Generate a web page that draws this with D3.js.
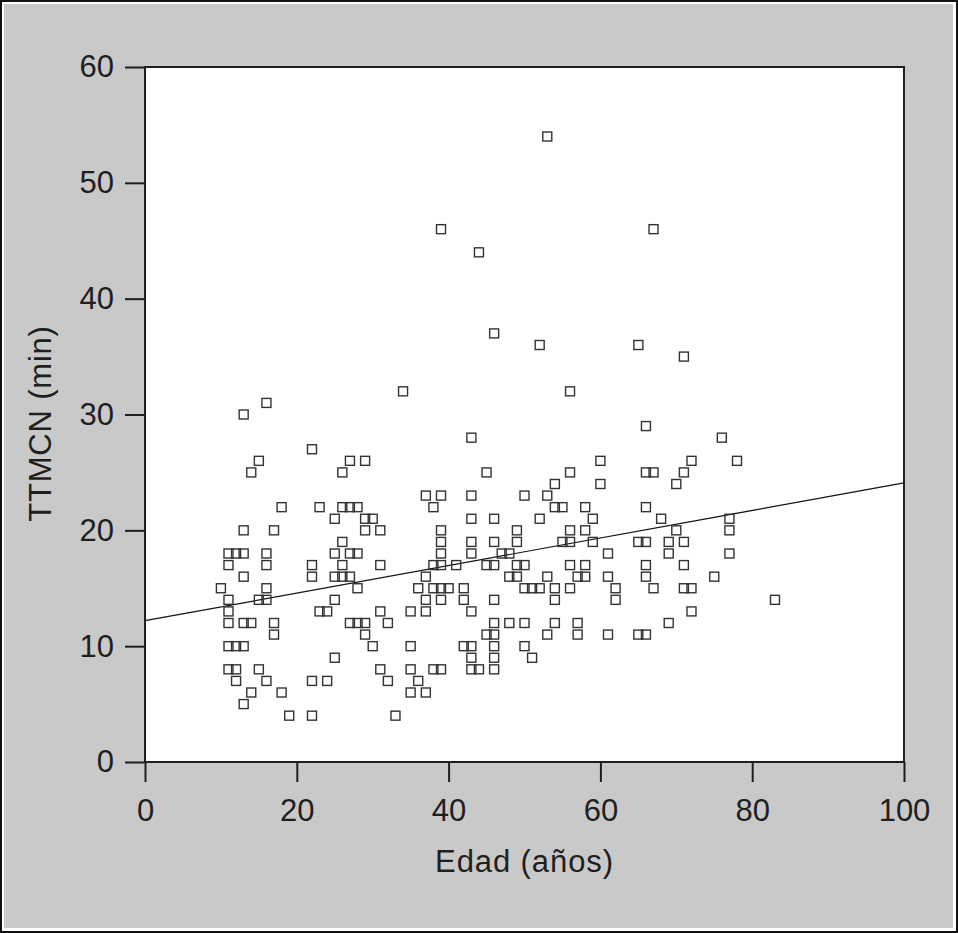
<!DOCTYPE html>
<html>
<head>
<meta charset="utf-8">
<script src="https://cdn.jsdelivr.net/npm/d3@7/dist/d3.min.js"></script>
<style>
  html, body { margin: 0; padding: 0; background: #ffffff; }
  svg { display: block; }
</style>
</head>
<body>
<svg id="chart" width="958" height="933"></svg>
<script>
// ---- Data ----
const xTicks = [0, 20, 40, 60, 80, 100];
const yTicks = [0, 10, 20, 30, 40, 50, 60];
const xTitle = "Edad (años)";
const yTitle = "TTMCN (min)";

// Age (years) of each patient
const ages = [
  53, 39, 67, 44, 46, 52, 65, 71, 34, 56, 16, 13, 66, 43, 76, 22,
  15, 27, 29, 60, 72, 78,
  14, 26, 45, 56, 66, 67, 71,
  54, 60, 70,
  37, 39, 43, 50, 53,
  18, 23, 26, 27, 28, 38, 54, 55, 58, 66,
  25, 29, 30, 43, 46, 52, 59, 68, 77,
  13, 17, 29, 31, 39, 49, 56, 58, 70, 77,
  26, 39, 43, 46, 49, 55, 56, 59, 65, 66, 69, 71,
  11, 12, 13, 16, 25, 27, 28, 39, 43, 47, 48, 61, 69, 77,
  11, 16, 22, 26, 31, 38, 39, 41, 45, 46, 49, 50, 56, 58, 66, 71,
  13, 22, 25, 26, 27, 37, 48, 49, 53, 57, 58, 61, 66, 75,
  10, 16, 28, 36, 38, 39, 40, 42, 50, 51, 52, 54, 56, 62, 67, 71, 72,
  11, 15, 16, 25, 37, 39, 42, 46, 54, 62, 83,
  11, 23, 24, 31, 35, 37, 43, 72,
  11, 13, 14, 17, 27, 28, 29, 32, 46, 48, 50, 54, 57, 69,
  17, 29, 45, 46, 53, 57, 61, 65, 66,
  11, 12, 13, 30, 35, 42, 43, 46, 50,
  25, 43, 46, 51,
  11, 12, 15, 31, 35, 38, 39, 43, 44, 46,
  12, 16, 22, 24, 32, 36,
  14, 18, 35, 37,
  13,
  19, 22, 33
];
// TTMCN (min) of each patient, same order as ages
const minutes = [
  54, 46, 46, 44, 37, 36, 36, 35, 32, 32, 31, 30, 29, 28, 28, 27,
  26, 26, 26, 26, 26, 26,
  25, 25, 25, 25, 25, 25, 25,
  24, 24, 24,
  23, 23, 23, 23, 23,
  22, 22, 22, 22, 22, 22, 22, 22, 22, 22,
  21, 21, 21, 21, 21, 21, 21, 21, 21,
  20, 20, 20, 20, 20, 20, 20, 20, 20, 20,
  19, 19, 19, 19, 19, 19, 19, 19, 19, 19, 19, 19,
  18, 18, 18, 18, 18, 18, 18, 18, 18, 18, 18, 18, 18, 18,
  17, 17, 17, 17, 17, 17, 17, 17, 17, 17, 17, 17, 17, 17, 17, 17,
  16, 16, 16, 16, 16, 16, 16, 16, 16, 16, 16, 16, 16, 16,
  15, 15, 15, 15, 15, 15, 15, 15, 15, 15, 15, 15, 15, 15, 15, 15, 15,
  14, 14, 14, 14, 14, 14, 14, 14, 14, 14, 14,
  13, 13, 13, 13, 13, 13, 13, 13,
  12, 12, 12, 12, 12, 12, 12, 12, 12, 12, 12, 12, 12, 12,
  11, 11, 11, 11, 11, 11, 11, 11, 11,
  10, 10, 10, 10, 10, 10, 10, 10, 10,
  9, 9, 9, 9,
  8, 8, 8, 8, 8, 8, 8, 8, 8, 8,
  7, 7, 7, 7, 7, 7,
  6, 6, 6, 6,
  5,
  4, 4, 4
];
// Fitted regression line (value at age 0 and at age 100)
const fitX = [0, 100];
const fitY = [12.2, 24.1];

// ---- Drawing ----
const W = 958, H = 933;
const pLeft = 145, pRight = 904, pTop = 67, pBottom = 762;
const FONT = "'Liberation Sans', Arial, Helvetica, sans-serif";
const INK = "#1f1f1f";

const svg = d3.select("#chart");

// outer frame: black edge, thin white line, grey panel
svg.append("rect").attr("x", 0).attr("y", 0).attr("width", W).attr("height", H).attr("fill", "#111");
svg.append("rect").attr("x", 2).attr("y", 2).attr("width", W - 4).attr("height", H - 4).attr("fill", "#ffffff");
svg.append("rect").attr("x", 4).attr("y", 4).attr("width", W - 9).attr("height", H - 9).attr("fill", "#c9c9c9");

const x = d3.scaleLinear().domain([0, 100]).range([pLeft, pRight]);
const y = d3.scaleLinear().domain([0, 60]).range([pBottom, pTop]);

// plot area
svg.append("rect")
  .attr("x", pLeft).attr("y", pTop)
  .attr("width", pRight - pLeft).attr("height", pBottom - pTop)
  .attr("fill", "#ffffff");

// axes
const yAxis = svg.append("g")
  .attr("transform", `translate(${pLeft},0)`)
  .call(d3.axisLeft(y).tickValues(yTicks).tickSize(20).tickPadding(11).tickFormat(d3.format("d")));
const xAxis = svg.append("g")
  .attr("transform", `translate(0,${pBottom})`)
  .call(d3.axisBottom(x).tickValues(xTicks).tickSize(20).tickPadding(17).tickFormat(d3.format("d")));

[xAxis, yAxis].forEach(g => {
  g.select(".domain").remove();
  g.selectAll(".tick line").attr("stroke", INK).attr("stroke-width", 2);
  g.selectAll(".tick text")
    .attr("fill", INK)
    .style("font-family", FONT)
    .style("font-size", "31px");
});

// regression line
const fitData = fitX.map((v, i) => [v, fitY[i]]);
svg.append("path")
  .datum(fitData)
  .attr("d", d3.line().x(d => x(d[0])).y(d => y(d[1])))
  .attr("fill", "none")
  .attr("stroke", "#111")
  .attr("stroke-width", 1.2);

// points (open squares)
const S = 9;
const pts = ages.map((a, i) => ({ a: a, m: minutes[i] }));
svg.append("g")
  .selectAll("rect")
  .data(pts)
  .join("rect")
  .attr("x", d => x(d.a) - S / 2)
  .attr("y", d => y(d.m) - S / 2)
  .attr("width", S)
  .attr("height", S)
  .attr("fill", "none")
  .attr("stroke", "#333")
  .attr("stroke-width", 1.4);

// plot frame
svg.append("rect")
  .attr("x", pLeft).attr("y", pTop)
  .attr("width", pRight - pLeft).attr("height", pBottom - pTop)
  .attr("fill", "none")
  .attr("stroke", INK)
  .attr("stroke-width", 2);

// axis titles
svg.append("text")
  .attr("x", (pLeft + pRight) / 2)
  .attr("y", 872)
  .attr("text-anchor", "middle")
  .attr("fill", INK)
  .style("font-family", FONT)
  .style("font-size", "31px")
  .style("letter-spacing", "0.9px")
  .text(xTitle);

svg.append("text")
  .attr("transform", `translate(51,${(pTop + pBottom) / 2 + 9}) rotate(-90)`)
  .attr("text-anchor", "middle")
  .attr("fill", INK)
  .style("font-family", FONT)
  .style("font-size", "31px")
  .style("letter-spacing", "0.8px")
  .text(yTitle);
</script>
</body>
</html>
